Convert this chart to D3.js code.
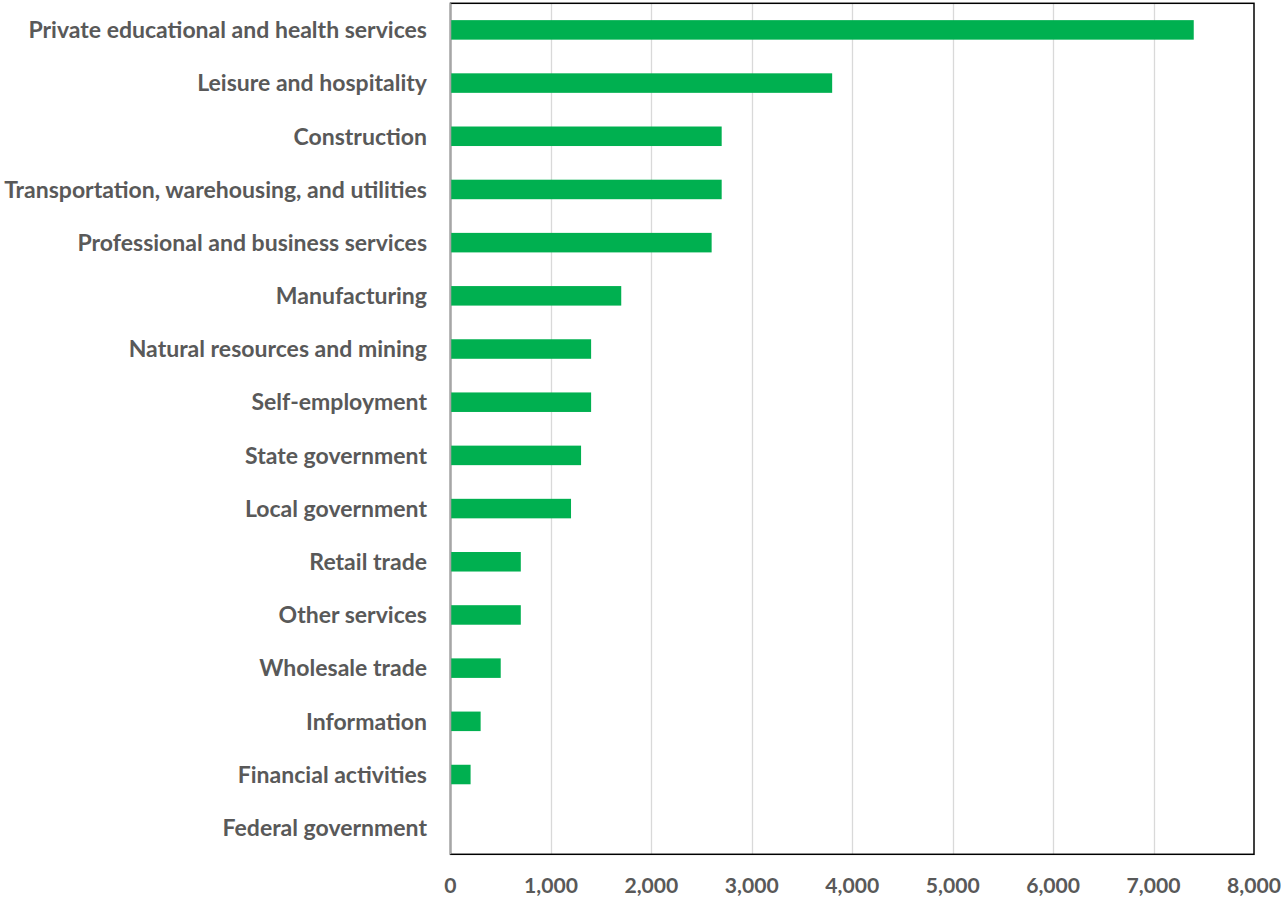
<!DOCTYPE html>
<html>
<head>
<meta charset="utf-8">
<script src="https://cdn.jsdelivr.net/npm/d3@7"></script>
<style>
  html, body { margin: 0; padding: 0; background: #fff; }
  svg text { font-family: Lato, "Open Sans", sans-serif; font-weight: 700; fill: #595959; }
</style>
</head>
<body>
<svg id="chart" width="1281" height="900"></svg>
<script>
const categories = [
  "Private educational and health services",
  "Leisure and hospitality",
  "Construction",
  "Transportation, warehousing, and utilities",
  "Professional and business services",
  "Manufacturing",
  "Natural resources and mining",
  "Self-employment",
  "State government",
  "Local government",
  "Retail trade",
  "Other services",
  "Wholesale trade",
  "Information",
  "Financial activities",
  "Federal government"
];
const values = [7400, 3800, 2700, 2700, 2600, 1700, 1400, 1400, 1300, 1200, 700, 700, 500, 300, 200, 0];
const xTicks = [0, 1000, 2000, 3000, 4000, 5000, 6000, 7000, 8000];

(function() {
const svg = d3.select("#chart");
const pL = 450.5, pR = 1254, pT = 3.3, pB = 854.3;

const x = d3.scaleLinear().domain([0, 8000]).range([pL, pR]);
const y = d3.scaleBand().domain(categories).range([pT, pB]).paddingInner(0.633).paddingOuter(0.3165);

// gridlines
svg.append("g").selectAll("line").data(xTicks.slice(1, -1)).join("line")
  .attr("x1", d => Math.round(x(d)) + 0.5).attr("x2", d => Math.round(x(d)) + 0.5)
  .attr("y1", pT).attr("y2", pB)
  .attr("stroke", "#d9d9d9").attr("stroke-width", 1.3);

// plot border
svg.append("rect").attr("x", pL).attr("y", pT).attr("width", pR - pL).attr("height", pB - pT)
  .attr("fill", "none").attr("stroke", "#000").attr("stroke-width", 1.5);

// bars
svg.append("g").selectAll("rect").data(values).join("rect")
  .attr("x", x(0))
  .attr("y", (d, i) => y(categories[i]))
  .attr("width", d => x(d) - x(0))
  .attr("height", y.bandwidth())
  .attr("fill", "#00b050");

// left axis line
svg.append("line").attr("x1", pL).attr("x2", pL).attr("y1", pT).attr("y2", pB)
  .attr("stroke", "#a6a6a6").attr("stroke-width", 1.5);

// category labels
const labels = svg.append("g").selectAll("text").data(categories).join("text")
  .attr("x", 427)
  .attr("y", d => y(d) + y.bandwidth() / 2)
  .attr("dy", "0.36em")
  .attr("text-anchor", "end")
  .style("font-size", "20px")
  .text(d => d);
let maxW = 0;
labels.each(function() { maxW = Math.max(maxW, this.getComputedTextLength()); });
const fs = 20 * 423 / maxW;
labels.style("font-size", fs + "px");

// x tick labels
const tl = svg.append("g").selectAll("text").data(xTicks).join("text")
  .attr("x", d => x(d))
  .attr("y", 893)
  .attr("text-anchor", "middle")
  .style("font-size", "20px")
  .text(d => d3.format(",")(d));
let w1 = 0;
tl.filter(d => d === 1000).each(function() { w1 = this.getComputedTextLength(); });
tl.style("font-size", (20 * 54 / w1) + "px");
})();
</script>
</body>
</html>
